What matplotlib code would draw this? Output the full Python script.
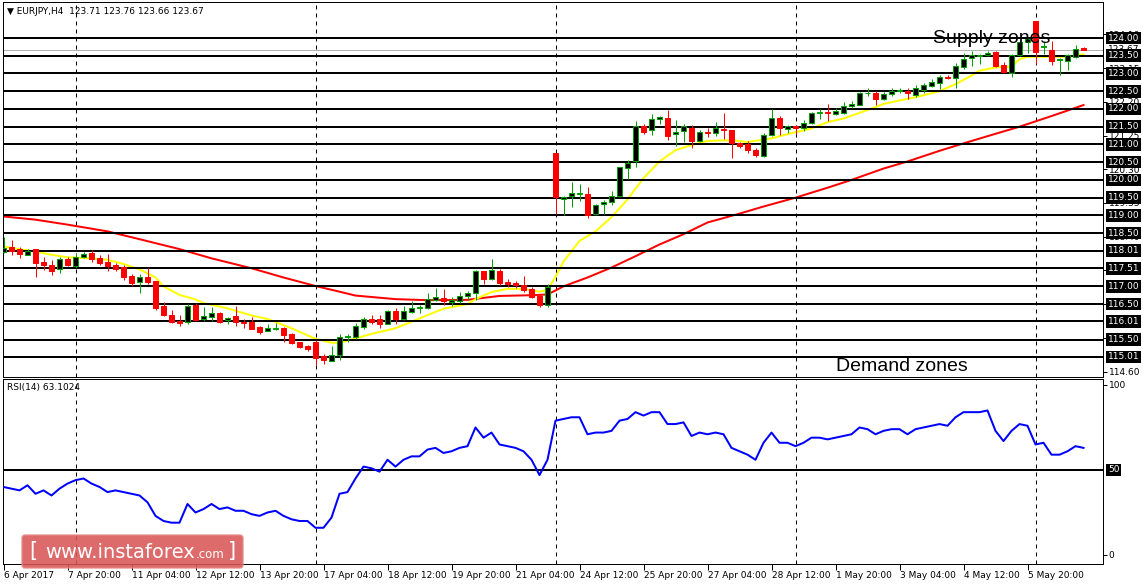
import matplotlib as mpl
mpl.use("Agg")
import matplotlib.pyplot as plt
import matplotlib.transforms as mtransforms
from matplotlib.patches import FancyBboxPatch

W, H = 1143, 585
PX = 72 / 100  # one pixel in points at dpi 100

# EURJPY H4 candles, first bar is 6 Apr 2017 12:00
opens = [117.97, 118.10, 118.05, 117.89, 118.05, 117.69, 117.59, 117.49, 117.77, 117.56,
         117.84, 117.95, 117.81, 117.69, 117.60, 117.55, 117.29, 117.11, 117.27, 117.15,
         116.44, 116.19, 116.03, 116.00, 116.48, 116.08, 116.14, 116.24, 116.05, 116.16,
         116.00, 115.99, 115.85, 115.75, 115.80, 115.82, 115.65, 115.42, 115.31, 115.42,
         115.05, 114.91, 115.07, 115.57, 115.58, 115.86, 116.08, 116.07, 115.95, 116.31,
         116.08, 116.29, 116.39, 116.38, 116.61, 116.66, 116.56, 116.58, 116.73, 116.82,
         117.42, 117.22, 117.44, 117.13, 117.10, 117.03, 116.93, 116.73, 116.47, 120.75,
         119.46, 119.55, 119.60, 119.59, 119.04, 119.32, 119.37, 119.55, 120.35, 120.52,
         121.53, 121.42, 121.72, 121.74, 121.29, 121.38, 121.46, 121.10, 121.35, 121.33,
         121.44, 121.42, 121.03, 121.01, 120.84, 120.68, 121.27, 121.75, 121.44, 121.51,
         121.45, 121.61, 121.88, 121.91, 121.87, 121.88, 122.08, 122.12, 122.44, 122.45,
         122.28, 122.42, 122.51, 122.52, 122.40, 122.54, 122.66, 122.72, 122.91, 122.86,
         123.19, 123.43, 123.50, 123.51, 123.60, 123.24, 123.02, 123.52, 123.90, 124.48,
         123.76, 123.66, 123.37, 123.36, 123.47, 123.71]
highs = [118.40, 118.31, 118.12, 118.06, 118.05, 117.82, 117.75, 117.82, 117.84, 117.93,
         117.98, 118.03, 117.89, 117.92, 117.65, 117.59, 117.35, 117.35, 117.51, 117.15,
         116.57, 116.33, 116.19, 116.50, 116.52, 116.42, 116.41, 116.28, 116.14, 116.44,
         116.09, 116.14, 115.88, 115.93, 115.97, 115.86, 115.69, 115.44, 115.35, 115.48,
         115.08, 115.31, 115.65, 115.65, 115.97, 116.14, 116.18, 116.19, 116.33, 116.38,
         116.46, 116.58, 116.48, 116.80, 116.96, 116.92, 116.69, 116.85, 116.88, 117.46,
         117.44, 117.77, 117.48, 117.20, 117.16, 117.29, 116.99, 116.78, 117.08, 120.75,
         119.55, 119.95, 119.88, 119.81, 119.33, 119.42, 119.68, 120.37, 120.56, 121.65,
         121.59, 121.87, 121.79, 121.98, 121.68, 121.58, 121.56, 121.40, 121.47, 121.63,
         121.89, 121.42, 121.07, 121.10, 120.89, 121.33, 121.99, 121.80, 121.56, 121.55,
         121.70, 121.92, 122.00, 122.13, 122.02, 122.19, 122.22, 122.49, 122.58, 122.52,
         122.47, 122.58, 122.59, 122.58, 122.68, 122.73, 122.85, 122.97, 122.96, 123.29,
         123.59, 123.64, 123.55, 123.62, 123.64, 123.31, 123.56, 123.93, 123.99, 124.48,
         123.92, 123.92, 123.45, 123.56, 123.79, 123.76]
lows = [117.95, 117.89, 117.79, 117.89, 117.27, 117.46, 117.32, 117.39, 117.56, 117.51,
        117.80, 117.70, 117.60, 117.44, 117.42, 117.18, 117.01, 116.82, 117.08, 116.33,
        116.16, 115.97, 115.88, 115.95, 116.03, 116.03, 116.03, 115.98, 115.95, 115.89,
        115.84, 115.79, 115.65, 115.75, 115.76, 115.43, 115.37, 115.25, 115.18, 114.79,
        114.82, 114.89, 114.93, 115.43, 115.52, 115.81, 115.93, 115.83, 115.93, 115.95,
        116.05, 116.25, 116.24, 116.35, 116.58, 116.47, 116.46, 116.54, 116.61, 116.61,
        117.07, 117.18, 117.04, 116.97, 116.94, 116.85, 116.66, 116.42, 116.42, 119.05,
        119.00, 119.23, 119.40, 118.92, 119.02, 119.05, 119.28, 119.52, 120.02, 120.36,
        121.29, 121.26, 121.57, 121.12, 120.96, 121.07, 120.89, 121.07, 121.21, 121.23,
        121.14, 120.61, 120.89, 120.75, 120.65, 120.65, 121.23, 121.26, 121.31, 121.29,
        121.38, 121.59, 121.71, 121.66, 121.82, 121.86, 122.03, 122.10, 122.37, 122.10,
        122.24, 122.36, 122.44, 122.28, 122.33, 122.45, 122.61, 122.56, 122.84, 122.59,
        123.14, 123.22, 123.26, 123.48, 123.17, 123.00, 122.91, 123.50, 123.59, 123.26,
        123.56, 123.25, 122.97, 123.10, 123.43, 123.66]
closes = [118.08, 118.01, 117.91, 118.01, 117.65, 117.61, 117.44, 117.76, 117.61, 117.82,
          117.92, 117.78, 117.67, 117.58, 117.49, 117.27, 117.10, 117.25, 117.13, 116.40,
          116.19, 116.00, 115.98, 116.44, 116.05, 116.16, 116.24, 116.00, 116.12, 116.00,
          115.97, 115.80, 115.72, 115.82, 115.83, 115.63, 115.41, 115.29, 115.23, 114.99,
          114.92, 115.06, 115.56, 115.59, 115.88, 116.07, 115.99, 115.93, 116.30, 116.08,
          116.30, 116.40, 116.42, 116.63, 116.69, 116.58, 116.61, 116.73, 116.80, 117.43,
          117.22, 117.46, 117.10, 117.08, 117.03, 116.90, 116.71, 116.47, 116.97, 119.51,
          119.53, 119.63, 119.63, 119.02, 119.28, 119.39, 119.55, 120.36, 120.49, 121.53,
          121.35, 121.72, 121.76, 121.25, 121.35, 121.53, 121.09, 121.35, 121.33, 121.45,
          121.41, 121.03, 120.95, 120.84, 120.70, 121.28, 121.75, 121.45, 121.52, 121.47,
          121.61, 121.90, 121.91, 121.89, 121.94, 122.08, 122.15, 122.45, 122.46, 122.28,
          122.42, 122.52, 122.54, 122.44, 122.59, 122.68, 122.77, 122.91, 122.88, 123.20,
          123.40, 123.52, 123.53, 123.58, 123.22, 123.03, 123.52, 123.90, 123.96, 123.61,
          123.78, 123.36, 123.40, 123.52, 123.69, 123.67]

# moving averages at these bars
fast_ma_bars = [0, 4, 6, 8, 11, 13, 15, 17, 19, 20, 22, 24, 25, 28, 31, 33, 36, 39, 41, 42,
                44, 46, 49, 51, 53, 55, 58, 59, 61, 63, 65, 67, 68, 69, 70, 72, 74, 76, 78, 80,
                82, 84, 86, 88, 91, 93, 96, 98, 101, 103, 105, 108, 110, 112, 114, 117, 119,
                121, 122, 124, 126, 127, 128, 130, 133, 135]
fast_ma = [118.12, 117.98, 117.89, 117.82, 117.79, 117.75, 117.63, 117.48, 117.25, 117.00,
           116.76, 116.63, 116.53, 116.38, 116.18, 116.08, 115.82, 115.52, 115.41, 115.41,
           115.53, 115.66, 115.82, 116.00, 116.19, 116.37, 116.50, 116.64, 116.84, 116.93,
           116.93, 116.85, 116.90, 117.27, 117.70, 118.28, 118.55, 118.95, 119.45, 120.05,
           120.52, 120.84, 120.98, 121.10, 121.12, 121.07, 121.17, 121.29, 121.45, 121.63,
           121.73, 121.97, 122.14, 122.24, 122.33, 122.50, 122.70, 122.94, 123.08, 123.17,
           123.19, 123.40, 123.47, 123.47, 123.47, 123.54]
slow_ma_bars = [0, 4, 8, 13, 17, 22, 26, 31, 35, 39, 42, 44, 49, 53, 58, 62, 66, 68, 70, 73,
                76, 79, 82, 85, 88, 92, 95, 99, 103, 106, 110, 113, 117, 120, 124, 127, 131, 135]
slow_ma = [118.97, 118.88, 118.74, 118.55, 118.33, 118.05, 117.79, 117.51, 117.25, 117.01,
           116.85, 116.74, 116.64, 116.61, 116.62, 116.73, 116.75, 116.77, 117.00, 117.25,
           117.53, 117.85, 118.18, 118.47, 118.80, 119.05, 119.25, 119.50, 119.78, 120.00,
           120.32, 120.52, 120.82, 121.03, 121.30, 121.50, 121.80, 122.11]

rsi = [40, 39, 38, 41, 36, 38, 35, 39, 42, 44, 45, 42, 40, 37, 38, 37, 36, 35, 31, 23,
       20, 19, 19, 30, 25, 27, 30, 27, 28, 26, 26, 24, 23, 25, 26, 23, 21, 20, 20, 16,
       16, 22, 36, 37, 45, 52, 51, 49, 56, 52, 56, 58, 58, 62, 63, 60, 61, 63, 64, 75,
       69, 72, 65, 64, 63, 61, 56, 47, 56, 79, 80, 81, 81, 71, 72, 72, 73, 79, 80, 84,
       82, 84, 84, 77, 77, 78, 70, 72, 71, 72, 71, 63, 61, 59, 56, 66, 72, 66, 66, 64,
       66, 69, 69, 68, 69, 70, 71, 75, 74, 71, 73, 74, 74, 71, 74, 75, 76, 77, 76, 81,
       84, 84, 84, 85, 73, 67, 73, 77, 76, 65, 66, 59, 59, 61, 64, 63]
rsi_last = 63.1024

levels = [124.00, 123.50, 123.00, 122.50, 122.00, 121.50, 121.00, 120.50, 120.00, 119.50,
          119.00, 118.50, 118.01, 117.51, 117.00, 116.50, 116.01, 115.50, 115.01]
price_ticks = [114.60, 115.55, 116.50, 117.45, 118.40, 119.35, 120.30, 121.25, 122.20,
               123.15, 124.10]
bid = 123.67
time_labels = ["6 Apr 2017", "7 Apr 20:00", "11 Apr 04:00", "12 Apr 12:00", "13 Apr 20:00",
               "17 Apr 04:00", "18 Apr 12:00", "19 Apr 20:00", "21 Apr 04:00", "24 Apr 12:00",
               "25 Apr 20:00", "27 Apr 04:00", "28 Apr 12:00", "1 May 20:00", "3 May 04:00",
               "4 May 12:00", "5 May 20:00"]
week_starts = [9, 39, 69, 99, 129]

GREEN = "#00a000"
RED = "#ff0000"
FS = 6.5

fig = plt.figure(figsize=(W / 100, H / 100), dpi=100)
fig.patch.set_facecolor("white")

main = fig.add_axes([3 / W, (H - 377) / H, 1100 / W, 375 / H])
rsi_ax = fig.add_axes([3 / W, (H - 564) / H, 1100 / W, 185.5 / H], sharex=main)

xmin, xmax = (3 - 3.5) / 8, (1103 - 3.5) / 8
main.set_xlim(xmin, xmax)
main.set_ylim(114.445, 125.015)
rsi_ax.set_ylim(-5.3, 103.8)

for ax in (main, rsi_ax):
    for s in ax.spines.values():
        s.set_linewidth(PX)
        s.set_color("black")
    for b in week_starts:
        ax.axvline(b, color="black", lw=PX, ls=(0, (4, 4)), zorder=1)

# support / resistance lines
for lv in levels:
    main.axhline(lv, color="black", lw=2 * PX, zorder=4)
main.axhline(bid, color="#b4b4b4", lw=PX, zorder=1)

# moving averages
main.plot(slow_ma_bars, slow_ma, color=RED, lw=2 * PX, zorder=2)
main.plot(fast_ma_bars, fast_ma, color="#ffff00", lw=2 * PX, zorder=2)

# candles
for i in range(len(opens)):
    o, h, l, c = opens[i], highs[i], lows[i], closes[i]
    up = c >= o
    col = GREEN if up else RED
    main.vlines(i, l, h, color=col, lw=PX, zorder=5)
    main.bar(i, max(abs(c - o), 0.005), bottom=min(o, c), width=0.55,
             color="black" if up else RED, edgecolor=col, linewidth=PX, zorder=6)

# price axis
main.yaxis.tick_right()
main.set_yticks(price_ticks)
main.set_yticklabels([f"{p:.2f}" for p in price_ticks])
main.tick_params(axis="y", direction="out", length=3, width=PX, pad=1, labelsize=FS)
main.tick_params(axis="x", length=0, labelbottom=False)

trans = mtransforms.blended_transform_factory(main.transAxes, main.transData)
main.text(1 + 5 / 1100, bid, f"{bid:.2f}", transform=trans, ha="left", va="center",
          fontsize=FS, clip_on=False, zorder=7)
for lv in levels:
    main.text(1 + 5 / 1100, lv, f"{lv:.2f}", transform=trans, ha="left", va="center",
              fontsize=FS, color="white", clip_on=False, zorder=8,
              bbox=dict(boxstyle="square,pad=0.2", fc="black", ec="none"))

ohlc = f"{opens[-1]:.2f} {highs[-1]:.2f} {lows[-1]:.2f} {closes[-1]:.2f}"
main.text(4 / 1100, 1 - 9 / 375, "\u25bc EURJPY,H4  " + ohlc, transform=main.transAxes,
          ha="left", va="center", fontsize=FS, zorder=9)

main.text(116.2, 124.0, "Supply zones", fontsize=14, family="Liberation Sans",
          ha="left", va="center", zorder=9)
main.text(104.0, 114.73, "Demand zones", fontsize=14, family="Liberation Sans",
          ha="left", va="center", zorder=9)

# RSI panel
rsi_ax.plot(range(len(rsi)), rsi, color="#0000ff", lw=2 * PX, zorder=3)
rsi_ax.axhline(50, color="black", lw=2 * PX, zorder=2)
rsi_ax.yaxis.tick_right()
rsi_ax.set_yticks([0, 100])
rsi_ax.set_yticklabels(["0", "100"])
rsi_ax.tick_params(axis="y", direction="out", length=3, width=PX, pad=1, labelsize=FS)
trans_r = mtransforms.blended_transform_factory(rsi_ax.transAxes, rsi_ax.transData)
rsi_ax.text(1 + 5 / 1100, 50, "50", transform=trans_r, ha="left", va="center",
            fontsize=FS, color="white", clip_on=False,
            bbox=dict(boxstyle="square,pad=0.2", fc="black", ec="none"))
rsi_ax.text(4 / 1100, 1 - 9 / 185.5, f"RSI(14) {rsi_last:.4f}", transform=rsi_ax.transAxes,
            ha="left", va="center", fontsize=FS)

rsi_ax.set_xticks(range(0, 8 * len(time_labels), 8))
rsi_ax.set_xticklabels(time_labels)
rsi_ax.tick_params(axis="x", direction="out", length=4, width=PX, pad=1, labelsize=FS)
for lbl in rsi_ax.get_xticklabels():
    lbl.set_ha("left")

# instaforex watermark, in figure pixels
over = fig.add_axes([0, 0, 1, 1], zorder=10)
over.set_xlim(0, W)
over.set_ylim(H, 0)
over.axis("off")
over.add_patch(FancyBboxPatch((22, 535), 221, 33, boxstyle="round,pad=0,rounding_size=3",
                              fc="#d95656", ec="#e88a8a", lw=1, alpha=0.88))
over.text(29, 551, "[", color="white", fontsize=15, va="center", ha="left")
over.text(45, 558, "www.instaforex", color="white", fontsize=14, va="baseline", ha="left")
over.text(196, 558, ".com", color="white", fontsize=8.5, va="baseline", ha="left")
over.text(228, 551, "]", color="white", fontsize=15, va="center", ha="left")

fig.savefig("out.png", dpi=100)
